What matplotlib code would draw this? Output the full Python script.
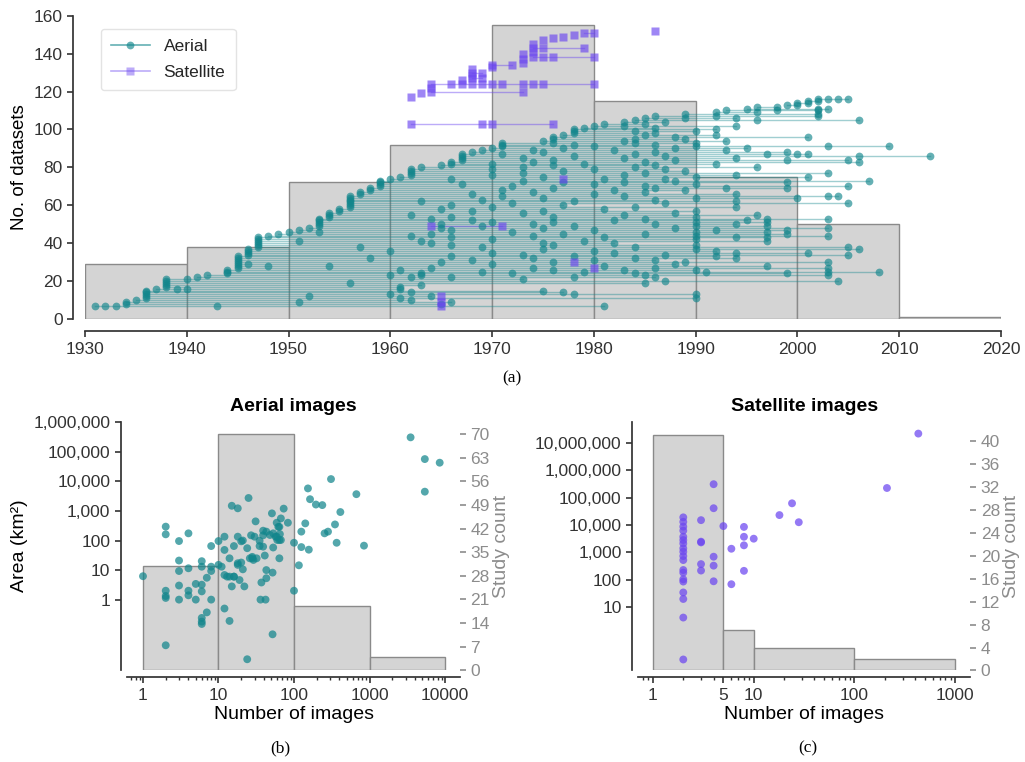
import matplotlib
matplotlib.use("Agg")
import matplotlib.pyplot as plt
from matplotlib.lines import Line2D
from matplotlib.ticker import FuncFormatter, LogLocator, NullFormatter, NullLocator

plt.rcParams["font.family"] = ["Liberation Sans", "DejaVu Sans"]
plt.rcParams["axes.edgecolor"] = "#333333"
plt.rcParams["xtick.color"] = "#333333"
plt.rcParams["ytick.color"] = "#333333"
plt.rcParams["text.color"] = "#262626"

TEAL = "#12868c"
PURPLE = "#6b46f0"
BAR_FACE = "#d4d4d4"
BAR_EDGE = "#8a8a8a"
SIDE_GREY = "#8c8c8c"

# ---- panel (a): datasets over time ----
decade_starts = [1930, 1940, 1950, 1960, 1970, 1980, 1990, 2000, 2010]
decade_counts = [29, 38, 72, 92, 155, 115, 75, 50, 1]

aerial_y = list(range(7, 117))
aerial_years = [
    [1931, 1932, 1933, 1943, 1981],
    [1934, 1965],
    [1934, 1951, 1966],
    [1935, 1962],
    [1936, 1961, 1990],
    [1936, 1952, 1964],
    [1936, 1960, 1978, 1990],
    [1936, 1962, 1977],
    [1936, 1975],
    [1937, 1939, 1940, 1961],
    [1938, 1961],
    [1938, 1963],
    [1938, 1956, 1985],
    [1938, 1987, 2004],
    [1938, 1940, 1973],
    [1941, 1962, 1966, 1978, 1986],
    [1942, 1960, 1963, 1985, 2003],
    [1944, 1963, 1972, 1984, 1999],
    [1944, 1969, 1979, 1991, 2003, 2008],
    [1944, 1961, 1976, 1983, 1990],
    [1945, 1964, 1974, 1986, 2003],
    [1945, 1948, 1954, 1981, 1997],
    [1945, 1946, 1970, 1988],
    [1945, 1965, 1976, 1989, 2003],
    [1945, 1968, 1980, 1986],
    [1945, 1958, 1974, 1984, 1994],
    [1945, 1966, 1978, 1992],
    [1946, 1973, 1987, 2005],
    [1946, 1970, 1982, 1994, 2001],
    [1946, 1960, 1980, 1992],
    [1946, 1975, 1990, 2006],
    [1947, 1957, 1969, 1984, 2005],
    [1947, 1966, 1976, 1990],
    [1947, 1964, 1975, 1982],
    [1947, 1951, 1963, 1979, 1997],
    [1947, 1970, 1990],
    [1947, 1966, 1981, 1994, 1997],
    [1948, 1962, 1974, 1990, 2003],
    [1949, 1964, 1977, 1985, 1999],
    [1950, 1953, 1972, 1990, 1997],
    [1951, 1966, 1980, 1992, 1999],
    [1952, 1965, 1975, 1988, 2003],
    [1953, 1969, 1978, 1990, 1997],
    [1953, 1965, 1974, 1986, 1994],
    [1953, 1970, 1976, 1990, 1997],
    [1953, 1968, 1982, 1995],
    [1953, 1964, 1985, 1997, 2003],
    [1954, 1966, 1976, 1990],
    [1954, 1962, 1983, 1996],
    [1954, 1973, 1988],
    [1955, 1968, 1975, 1990],
    [1955, 1965, 1981],
    [1956, 1970, 1984, 1994],
    [1956, 1966, 1977],
    [1956, 1972, 1987, 2005],
    [1956, 1963, 1978, 1994],
    [1956, 1969, 1986],
    [1956, 1975, 1990, 2000],
    [1956, 1971, 1983, 2003, 2004],
    [1957, 1968, 1980, 1994],
    [1957, 1974, 1985],
    [1958, 1971, 1982, 1989],
    [1958, 1976, 1986, 1993, 1999],
    [1959, 1972, 1985, 2005],
    [1959, 1967, 1980, 1990],
    [1959, 1977, 1983, 1999],
    [1959, 1973, 1988, 2007],
    [1960, 1966, 1981, 1987],
    [1961, 1975, 1990, 2001],
    [1962, 1970, 1983, 1994],
    [1962, 1973, 1985, 2003],
    [1962, 1977, 1989],
    [1962, 1970, 1980, 1987],
    [1963, 1973, 1984, 1996],
    [1965, 1976, 1986],
    [1966, 1970, 1979, 1992],
    [1966, 1974, 1985, 2006],
    [1967, 1976, 1988, 1999, 2005],
    [1967, 1973, 1983, 1994],
    [1967, 1978, 1987, 2006, 2013],
    [1967, 1971, 1984, 1997, 2000, 2001],
    [1968, 1975, 1986, 1999],
    [1969, 1974, 1982, 1993],
    [1970, 1977, 1988, 1995],
    [1971, 1980, 1990, 2003, 2009],
    [1971, 1978, 1986],
    [1971, 1976, 1984, 1990],
    [1975, 1983, 1993],
    [1976, 1984, 1989],
    [1976, 1988, 2001],
    [1977, 1985, 1992],
    [1978, 1986],
    [1978, 1984, 1990],
    [1978, 1992],
    [1979, 1986],
    [1980, 1983, 1994],
    [1981, 1985],
    [1983, 1987],
    [1984, 1996, 2006],
    [1985, 1989, 1994],
    [1986, 1992, 2002],
    [1989, 2002],
    [1992, 1996],
    [1993, 1998, 2002],
    [1995, 2002, 2003],
    [1996, 1998],
    [1999, 2000],
    [2000, 2001],
    [2001, 2002],
    [2002, 2003, 2004, 2005],
]

sat_y = [7, 9, 12, 27, 30, 49, 74, 103, 117, 119, 120, 122, 124, 126, 127,
         128, 130, 132, 133, 134, 135, 137, 138, 140, 141, 143, 145, 147,
         148, 149, 150, 151, 152]
sat_years = [
    [1965], [1965], [1965], [1980], [1978], [1964, 1971], [1977],
    [1962, 1969, 1970, 1976],
    [1962], [1963], [1964, 1973], [1964],
    [1964, 1966, 1967, 1968, 1969, 1970, 1971, 1973, 1974, 1975, 1980],
    [1967], [1968, 1969], [1968], [1968, 1969], [1968], [1970],
    [1970, 1972], [1973], [1973], [1974, 1975, 1976, 1980], [1973],
    [1974], [1974, 1975, 1979], [1974], [1975], [1976], [1977], [1978],
    [1979, 1980], [1986],
]

# ---- panel (b): aerial image counts vs area ----
aerial_n = [1, 2, 2, 2, 2, 2, 2, 3, 3, 3, 3, 3, 4, 4, 4, 4, 5, 5, 6, 6, 6, 6,
            6, 6, 6, 7, 7, 8, 8, 8, 8, 10, 10, 12, 12, 12, 12, 14, 14, 15, 15,
            16, 16, 18, 18, 18, 20, 21, 21, 22, 24, 25, 26, 27, 28, 29, 31, 30,
            35, 36, 37, 39, 39, 41, 42, 43, 43, 48, 51, 52, 52, 53, 57, 59, 60,
            64, 64, 67, 67, 73, 83, 100, 100, 116, 125, 141, 125, 153, 157, 163,
            195, 237, 254, 282, 309, 349, 367, 411, 670, 845, 3500, 5400, 5400,
            8500, 39, 43, 53, 59, 62, 65, 64, 28, 32, 35, 24, 18, 20, 19, 16,
            14, 13, 11]
aerial_area = [6.2, 295, 162, 2.0, 1.33, 1.14, 0.0285, 96, 21, 9.3, 3.0, 1.0,
               175, 11.5, 2.0, 1.4, 3.4, 1.0, 20, 13, 3.2, 1.9, 0.24, 0.18,
               0.15, 5.5, 0.37, 9.3, 1.0, 65, 13, 96, 15, 135, 48, 6.8, 0.5,
               0.19, 25, 1500, 2.8, 6, 65, 1230, 15, 135, 94, 10.6, 100, 2.8,
               0.0096, 2750, 25, 150, 25, 22, 445, 135, 98, 1.0, 3.8, 215, 62,
               31, 1.0, 10, 5.3, 154, 830, 0.067, 8.2, 58, 135, 400, 104, 25,
               290, 560, 104, 1200, 400, 84, 2.0, 14.5, 60, 380, 200, 5800, 49,
               2500, 1650, 1580, 175, 200, 12000, 350, 84, 920, 3700, 67,
               310000, 57000, 4500, 43000, 150, 200, 175, 135, 290, 165, 104,
               28, 25, 65, 55, 17, 18, 4.6, 6, 6, 6, 13]
aerial_bin_edges = [1, 10, 100, 1000, 10000]
aerial_bin_counts = [31, 70, 19, 4]

# ---- panel (c): satellite image counts vs area ----
sat_n = [2] * 19 + [3, 3, 3, 3, 3, 4, 4, 4, 4, 4, 5, 6, 6, 8, 8, 8, 8, 10,
                    18, 24, 28, 210, 430]
sat_area = [19000, 13000, 8700, 6200, 3700, 2800, 2100, 1400, 1050, 730, 520,
            225, 180, 103, 85, 34, 19.6, 4.1, 0.12,
            15000, 2450, 2300, 370, 215, 310000, 41000, 690, 325, 87, 9100,
            1350, 68, 8500, 3700, 1800, 210, 3150, 23000, 62000, 12600,
            225000, 22000000]
sat_bin_edges = [1, 5, 10, 100, 1000]
sat_bin_counts = [41, 7, 4, 2]


def style_axis(ax, left_out, bottom_out):
    ax.spines["top"].set_visible(False)
    ax.spines["right"].set_visible(False)
    ax.spines["left"].set_position(("outward", left_out))
    ax.spines["bottom"].set_position(("outward", bottom_out))
    ax.spines["left"].set_linewidth(1.25)
    ax.spines["bottom"].set_linewidth(1.25)
    ax.tick_params(which="major", length=4, width=1.2, labelsize=12.5)
    ax.tick_params(which="minor", length=2.5, width=1.0)


fig = plt.figure(figsize=(10.25, 7.62), dpi=100)

# panel (a)
ax = fig.add_axes([0.0829, 0.5814, 0.8937, 0.398])
ax.bar(decade_starts, decade_counts, width=10, align="edge",
       color=BAR_FACE, edgecolor=BAR_EDGE, linewidth=1.0, zorder=1)
for y, years in zip(aerial_y, aerial_years):
    ax.plot([years[0], years[-1]], [y, y], color=TEAL, alpha=0.4, lw=1.0, zorder=2)
    ax.plot(years, [y] * len(years), "o", color=TEAL, alpha=0.65,
            ms=5.6, mec="none", zorder=3)
for y, years in zip(sat_y, sat_years):
    ax.plot([years[0], years[-1]], [y, y], color=PURPLE, alpha=0.45, lw=1.0, zorder=2)
    ax.plot(years, [y] * len(years), "s", color=PURPLE, alpha=0.65,
            ms=5.4, mec="none", zorder=3)
ax.set_xlim(1930, 2020)
ax.set_ylim(0, 160)
ax.set_xticks(range(1930, 2030, 10))
ax.set_yticks(range(0, 180, 20))
ax.set_ylabel("No. of datasets", fontsize=13.5)
style_axis(ax, 8.5, 9)
handles = [
    Line2D([], [], color=TEAL, marker="o", ms=5.6, alpha=0.65, lw=1.2, mec="none"),
    Line2D([], [], color=PURPLE, marker="s", ms=5.4, alpha=0.45, lw=1.2, mec="none"),
]
ax.legend(handles, ["Aerial", "Satellite"], loc="upper left",
          bbox_to_anchor=(0.008, 0.985), fontsize=12.5, frameon=True,
          edgecolor="#dddddd", handlelength=2.2, borderpad=0.6, labelspacing=0.6)


def scatter_panel(rect, n, area, edges, counts, color, xlim, ylim, ylim2,
                  yticks, xticks, y2ticks, title):
    a = fig.add_axes(rect)
    a2 = a.twinx()
    a2.bar(edges[:-1], counts, width=[e2 - e1 for e1, e2 in zip(edges[:-1], edges[1:])],
           align="edge", color=BAR_FACE, edgecolor=BAR_EDGE, linewidth=1.0)
    a.set_zorder(a2.get_zorder() + 1)
    a.patch.set_visible(False)
    a.scatter(n, area, s=32, color=color, alpha=0.72, edgecolors="none", zorder=3)
    a.set_xscale("log")
    a.set_yscale("log")
    a2.set_xscale("log")
    a.set_xlim(*xlim)
    a2.set_xlim(*xlim)
    a.set_ylim(*ylim)
    a2.set_ylim(*ylim2)
    a.set_yticks(yticks)
    a.yaxis.set_minor_locator(NullLocator())
    a.yaxis.set_major_formatter(FuncFormatter(lambda v, _: f"{int(round(v)):,}"))
    a.set_xticks(xticks)
    a.xaxis.set_major_formatter(FuncFormatter(lambda v, _: f"{int(round(v))}"))
    a.xaxis.set_minor_locator(LogLocator(base=10, subs=range(2, 10), numticks=20))
    a.xaxis.set_minor_formatter(NullFormatter())
    a.set_xlabel("Number of images", fontsize=14, labelpad=2)
    a.set_title(title, fontsize=14, fontweight="bold", color="black", pad=8)
    style_axis(a, 4.5, 5)
    for s in a2.spines.values():
        s.set_visible(False)
    a2.set_yticks(y2ticks)
    a2.tick_params(axis="y", colors=SIDE_GREY, labelsize=12.5, length=4, width=1.2)
    a2.set_ylabel("Study count", color=SIDE_GREY, fontsize=14, labelpad=2)
    return a


ab = scatter_panel([0.1239, 0.1201, 0.3249, 0.3265], aerial_n, aerial_area,
                   aerial_bin_edges, aerial_bin_counts, TEAL,
                   (0.614, 15800), (0.004, 1.05e6), (0, 73.6),
                   [1, 10, 100, 1000, 10000, 100000, 1000000],
                   [1, 10, 100, 1000, 10000], list(range(0, 71, 7)),
                   "Aerial images")
ab.set_ylabel("Area (km²)", fontsize=14)

ac = scatter_panel([0.6227, 0.1201, 0.3239, 0.3265], sat_n, sat_area,
                   sat_bin_edges, sat_bin_counts, PURPLE,
                   (0.715, 1409), (0.0475, 6.0e7), (0, 43.3),
                   [10, 100, 1000, 10000, 100000, 1000000, 10000000],
                   [1, 5, 10, 100, 1000], list(range(0, 41, 4)),
                   "Satellite images")

serif = ["Liberation Serif", "DejaVu Serif"]
fig.text(512 / 1025, 1 - 378 / 762, "(a)", ha="center", va="center",
         fontsize=12.5, family=serif, color="black")
fig.text(280 / 1025, 1 - 748 / 762, "(b)", ha="center", va="center",
         fontsize=12.5, family=serif, color="black")
fig.text(808 / 1025, 1 - 748 / 762, "(c)", ha="center", va="center",
         fontsize=12.5, family=serif, color="black")

fig.savefig("out.png", dpi=100)
